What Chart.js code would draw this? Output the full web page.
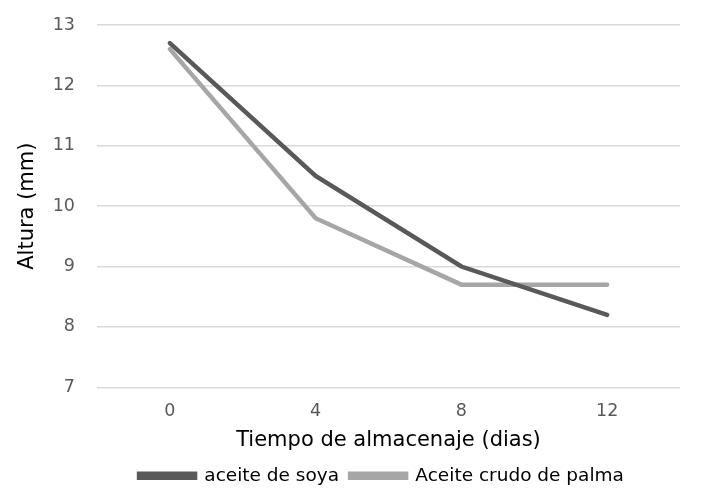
<!DOCTYPE html>
<html>
<head>
<meta charset="utf-8">
<script src="https://cdn.jsdelivr.net/npm/chart.js@4.4.0/dist/chart.umd.min.js"></script>
<style>
  html,body{margin:0;padding:0;background:#fff;}
  #wrap{width:702px;height:497px;}
</style>
</head>
<body>
<div id="wrap"><canvas id="chart" width="702" height="497"></canvas></div>
<script>
const DAYS = ['0','4','8','12'];
const SOYA = [12.7, 10.5, 9.0, 8.2];
const PALMA = [12.6, 9.8, 8.7, 8.7];
const Y_TICKS = [7, 8, 9, 10, 11, 12, 13];

const FONT = '"DejaVu Sans", sans-serif';

// legend sits centred under the plot area, not the whole canvas
const shiftLegend = {
  id:'shiftLegend',
  afterLayout(chart){
    const lg = chart.legend;
    lg.left += 34; lg.right += 34;
  }
};

new Chart(document.getElementById('chart'), {
  type:'line',
  data:{
    labels:DAYS,
    datasets:[
      { label:'aceite de soya', data:SOYA, borderColor:'#595959', backgroundColor:'#595959',
        borderWidth:4.5, pointRadius:0, tension:0, borderCapStyle:'round' },
      { label:'Aceite crudo de palma', data:PALMA, borderColor:'#A6A6A6', backgroundColor:'#A6A6A6',
        borderWidth:4.5, pointRadius:0, tension:0, borderCapStyle:'round' },
    ]
  },
  plugins:[shiftLegend],
  options:{
    responsive:false,
    animation:false,
    layout:{padding:{left:15, right:22, top:25, bottom:2}},
    plugins:{
      legend:{
        position:'bottom',
        labels:{boxWidth:56, boxHeight:4, color:'#000', padding:11, font:{family:FONT, size:18.5}}
      },
      tooltip:{enabled:false}
    },
    scales:{
      x:{
        offset:true,
        grid:{display:false},
        border:{display:false},
        ticks:{color:'#595959', font:{family:FONT, size:17.5}, padding:6},
        title:{display:true, text:'Tiempo de almacenaje (dias)', color:'#000', font:{family:FONT, size:21}, padding:{top:0, bottom:2}}
      },
      y:{
        min:7, max:13,
        afterBuildTicks: ax => { ax.ticks = Y_TICKS.map(v => ({value:v})); },
        afterFit: ax => { ax.width = 82; ax.paddingTop = 0; },
        grid:{color:'#D9D9D9', lineWidth:1.5, drawTicks:false},
        border:{display:false},
        ticks:{color:'#595959', font:{family:FONT, size:17.5}, padding:22},
        title:{display:true, text:'Altura (mm)', color:'#000', font:{family:FONT, size:21}, padding:{top:0, bottom:0}}
      }
    }
  }
});
</script>
</body>
</html>
